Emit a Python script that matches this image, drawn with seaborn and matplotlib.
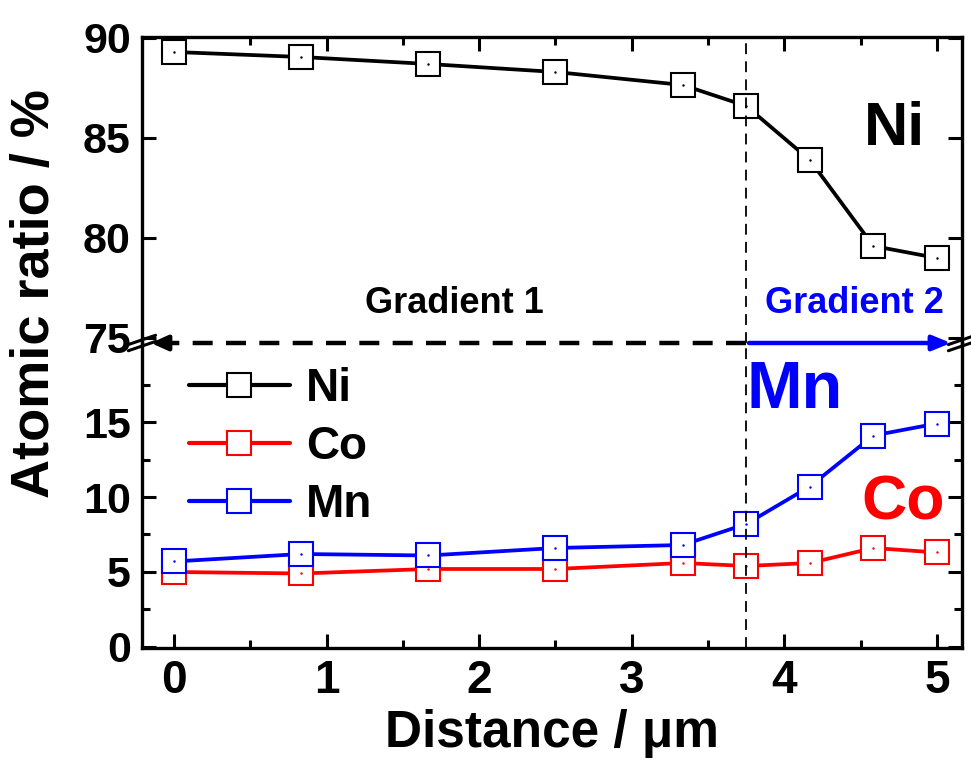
import matplotlib
matplotlib.use("Agg")
import matplotlib.pyplot as plt
import seaborn as sns
import pandas as pd
from matplotlib.lines import Line2D

# data
distance = [0, 5/6, 10/6, 15/6, 20/6, 3.75, 25/6, 27.5/6, 5]
ni = [89.3, 89.05, 88.7, 88.3, 87.65, 86.6, 83.9, 79.6, 79.0]
co = [5.0, 4.9, 5.2, 5.2, 5.6, 5.4, 5.6, 6.6, 6.3]
mn = [5.7, 6.2, 6.1, 6.6, 6.8, 8.2, 10.7, 14.1, 14.9]
x_ticks = [0, 1, 2, 3, 4, 5]
upper_ticks = [75, 80, 85, 90]
lower_ticks = [0, 5, 10, 15]
boundary = 3.75

df = pd.DataFrame({"Distance": distance, "Ni": ni, "Co": co, "Mn": mn})

sns.set_style("ticks")
plt.rcParams["font.family"] = ["Liberation Sans", "DejaVu Sans"]
plt.rcParams["font.weight"] = "bold"
for k in ("text.color", "axes.labelcolor", "xtick.color", "ytick.color", "axes.edgecolor"):
    plt.rcParams[k] = "black"

fig = plt.figure(figsize=(9.71, 7.72), dpi=100)
ax_top = fig.add_axes([0.1462, 0.5557, 0.8445, 0.3964])
ax_bot = fig.add_axes([0.1462, 0.1606, 0.8445, 0.3951])
ax_top.set_zorder(3)
ax_top.patch.set_visible(False)

style = dict(marker="s", markersize=17, markerfacecolor="white", markeredgewidth=1.5,
             linewidth=2.7, errorbar=None, sort=False)


def draw(ax, col, color):
    sns.lineplot(data=df, x="Distance", y=col, ax=ax, color=color,
                 markeredgecolor=color, **style)
    ax.plot(df["Distance"], df[col], ls="none", marker=".", ms=1.5, color=color)


draw(ax_top, "Ni", "black")
draw(ax_bot, "Co", "red")
draw(ax_bot, "Mn", "blue")

for ax in (ax_top, ax_bot):
    ax.set_xlim(-0.21, 5.164)
    ax.set_xlabel("")
    ax.set_ylabel("")
    ax.axvline(boundary, color="black", lw=1.3, ls=(0, (6, 4)))
    for s in ax.spines.values():
        s.set_linewidth(2.4)
    ax.set_xticks(x_ticks)
    ax.set_xticks([0.5, 1.5, 2.5, 3.5, 4.5], minor=True)
    ax.tick_params(which="both", direction="in", width=2.2, right=True)
    ax.tick_params(which="major", length=10)
    ax.tick_params(which="minor", length=6)
    ax.tick_params(axis="y", labelsize=31, pad=8)

ax_top.set_ylim(74.75, 90.05)
ax_top.set_yticks(upper_ticks)
ax_top.spines["bottom"].set_visible(False)
ax_top.tick_params(axis="x", which="both", bottom=False, top=True, labelbottom=False)

ax_bot.set_ylim(-0.07, 20.27)
ax_bot.set_yticks(lower_ticks)
ax_bot.set_yticks([2.5, 7.5, 12.5, 17.5], minor=True)
ax_bot.spines["top"].set_visible(False)
ax_bot.tick_params(axis="x", which="both", top=False, labelsize=33, pad=8)

ax_bot.set_xlabel("Distance / \u03bcm", fontsize=37, fontweight="bold", labelpad=4)
fig.text(0.036, 0.62, "Atomic ratio / %", rotation=90, ha="center", va="center",
         fontsize=39, fontweight="bold")

# gradient arrows along the break
yb = 74.75
ax_top.plot([boundary, -0.08], [yb, yb], color="black", lw=3.2, ls=(0, (4.5, 3)),
            clip_on=False, zorder=5)
ax_top.annotate("", xy=(-0.17, yb), xytext=(0.0, yb), annotation_clip=False,
                arrowprops=dict(arrowstyle="-|>,head_length=1.0,head_width=0.45",
                                color="black", lw=3.2))
ax_top.annotate("", xy=(5.11, yb), xytext=(boundary, yb), annotation_clip=False,
                arrowprops=dict(arrowstyle="-|>,head_length=1.1,head_width=0.45",
                                color="blue", lw=3.2))
ax_top.text(1.84, 76.7, "Gradient 1", fontsize=26, fontweight="bold", ha="center", va="center")
ax_top.text(4.46, 76.7, "Gradient 2", fontsize=26, fontweight="bold", color="blue",
            ha="center", va="center")

# break marks on both spines
for xf in (0.1462, 0.9907):
    for dy in (-0.004, 0.004):
        fig.add_artist(Line2D([xf - 0.014, xf + 0.014], [0.5557 + dy - 0.006, 0.5557 + dy + 0.006],
                              color="black", lw=2.2))

ax_top.text(4.72, 85.4, "Ni", fontsize=44, fontweight="bold", ha="center", va="center")
ax_bot.text(4.07, 17.1, "Mn", fontsize=48, fontweight="bold", color="blue", ha="center", va="center")
ax_bot.text(4.78, 9.6, "Co", fontsize=45, fontweight="bold", color="red", ha="center", va="center")

handles = [Line2D([], [], color=c, lw=3, marker="s", ms=17, mfc="white", mec=c, mew=1.5)
           for c in ("black", "red", "blue")]
ax_bot.legend(handles, ["Ni", "Co", "Mn"], loc="upper left", bbox_to_anchor=(0.007, 1.055),
              frameon=False, handlelength=2.2, labelspacing=0.3, borderpad=0.4,
              handletextpad=0.35, prop=dict(weight="bold", size=33))

fig.savefig("out.png", dpi=100)
